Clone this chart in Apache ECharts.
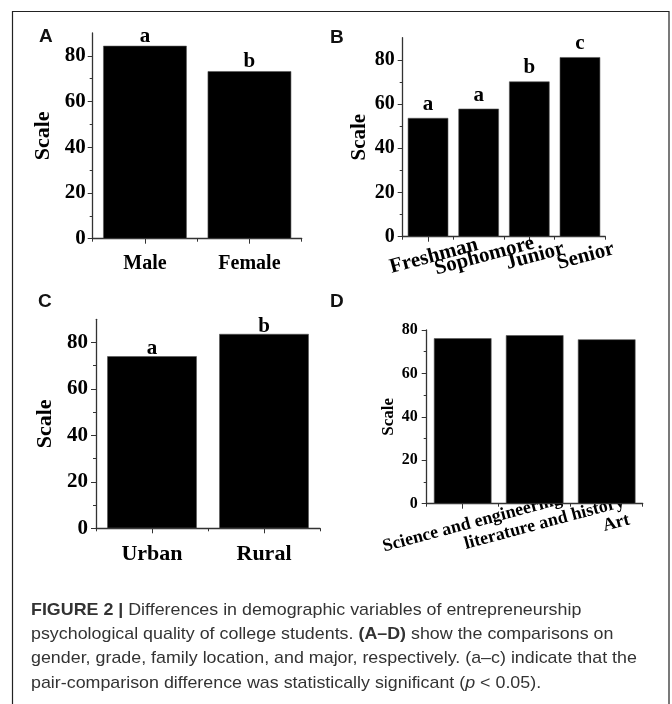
<!DOCTYPE html>
<html>
<head>
<meta charset="utf-8">
<script src="https://cdn.jsdelivr.net/npm/echarts@6/dist/echarts.min.js"></script>
<style>
  html, body { margin: 0; padding: 0; background: #fff; }
  #main { width: 672px; height: 704px; }
</style>
</head>
<body>
<div id="main"></div>
<script>
// panel A - gender
var genderCats = ['Male', 'Female'];
var genderVals = [84.4, 73.3];
var genderSig = ['a', 'b'];
// panel B - grade
var gradeCats = ['Freshman', 'Sophomore', 'Junior', 'Senior'];
var gradeVals = [53.7, 57.9, 70.2, 81.2];
var gradeSig = ['a', 'a', 'b', 'c'];
// panel C - family location
var locCats = ['Urban', 'Rural'];
var locVals = [74.1, 83.7];
var locSig = ['a', 'b'];
// panel D - major
var majorCats = ['Science and engineering', 'literature and history', 'Art'];
var majorVals = [76.2, 77.6, 75.7];

var yTicks = [0, 20, 40, 60, 80];
var yMinor = [10, 30, 50, 70];

var serif = '"Liberation Serif", "Times New Roman", serif';
var axisColor = '#333';

var chart = echarts.init(document.getElementById('main'));

var grids = [];
var xAxes = [];
var yAxes = [];
var series = [];

function addPanel(p) {
  var g = grids.length;
  grids.push({ left: p.left, top: p.top, width: p.width, height: p.height, containLabel: false });

  xAxes.push({
    type: 'category', gridIndex: g, position: 'bottom', data: p.cats,
    axisLine: { lineStyle: { color: axisColor, width: 1.3 } },
    axisTick: { show: true, alignWithLabel: false, length: 3, lineStyle: { color: axisColor } },
    axisLabel: {
      interval: 0, color: '#000', fontFamily: serif, fontWeight: 'bold', fontSize: p.xFont,
      margin: p.xMargin, rotate: p.rotate || 0,
      align: p.rotate ? 'center' : undefined,
      verticalAlign: p.rotate ? 'middle' : undefined,
      padding: p.rotate ? [0, 0, 0, p.shift] : 0
    }
  });
  xAxes.push({
    type: 'category', gridIndex: g, position: 'bottom', data: p.cats,
    axisLine: { show: false },
    axisTick: { show: true, alignWithLabel: true, length: 5, lineStyle: { color: axisColor } },
    axisLabel: { show: false }
  });

  yAxes.push({
    type: 'value', gridIndex: g, position: 'left', min: 0, max: p.max,
    name: 'Scale', nameLocation: 'middle', nameGap: p.nameGap,
    nameTextStyle: { fontFamily: serif, fontWeight: 'bold', fontSize: p.nameFont, color: '#000' },
    splitLine: { show: false },
    axisLine: { show: true, lineStyle: { color: axisColor, width: 1.3 } },
    axisTick: { show: true, customValues: yTicks, length: 5, lineStyle: { color: axisColor } },
    axisLabel: {
      customValues: yTicks, color: '#000', fontFamily: serif, fontWeight: 'bold',
      fontSize: p.yFont, margin: p.yMargin
    }
  });
  yAxes.push({
    type: 'value', gridIndex: g, position: 'left', min: 0, max: p.max,
    splitLine: { show: false },
    axisLine: { show: false },
    axisTick: { show: true, customValues: yMinor, length: 3, lineStyle: { color: axisColor } },
    axisLabel: { show: false }
  });

  var sig = p.sig;
  series.push({
    type: 'bar', xAxisIndex: g * 2, yAxisIndex: g * 2, data: p.vals,
    barCategoryGap: '20%',
    itemStyle: { color: '#000', borderColor: '#555', borderWidth: 0.6 },
    label: {
      show: !!sig, position: 'top', distance: p.sigDist,
      fontFamily: serif, fontWeight: 'bold', fontSize: p.sigFont, color: '#000',
      formatter: function (d) { return sig ? sig[d.dataIndex] : ''; }
    },
    silent: true
  });
}

addPanel({ left: 92.7, top: 33, width: 209, height: 205.7, max: 90, cats: genderCats, vals: genderVals, sig: genderSig,
  xFont: 20, xMargin: 15, yFont: 21, yMargin: 7, nameFont: 22, nameGap: 38, sigFont: 21, sigDist: -1 });
addPanel({ left: 402.7, top: 37.7, width: 202.6, height: 199, max: 90, cats: gradeCats, vals: gradeVals, sig: gradeSig,
  xFont: 21, xMargin: 21, rotate: 15, shift: 12, yFont: 20, yMargin: 8, nameFont: 21, nameGap: 33, sigFont: 21, sigDist: 3 });
addPanel({ left: 96, top: 319.3, width: 224, height: 209, max: 90, cats: locCats, vals: locVals, sig: locSig,
  xFont: 22, xMargin: 15, yFont: 21, yMargin: 8, nameFont: 22, nameGap: 40, sigFont: 21, sigDist: -3 });
addPanel({ left: 426.7, top: 330, width: 216, height: 173.7, max: 80, cats: majorCats, vals: majorVals, sig: null,
  xFont: 18, xMargin: 22, rotate: 15, shift: 20, yFont: 16, yMargin: 9, nameFont: 17, nameGap: 30, sigFont: 18, sigDist: 2 });

var letterFont = 'bold 19px "Liberation Sans", Arial, sans-serif';
var capFamily = '"Liberation Sans", Arial, sans-serif';

var option = {
  animation: false,
  backgroundColor: '#fff',
  grid: grids,
  xAxis: xAxes,
  yAxis: yAxes,
  series: series,
  graphic: [
    { type: 'rect', shape: { x: 12.5, y: 11.5, width: 656.5, height: 710 }, style: { fill: null, stroke: '#222', lineWidth: 1.2 }, silent: true },
    { type: 'text', x: 39, y: 37, style: { text: 'A', font: letterFont, fill: '#111', verticalAlign: 'middle' } },
    { type: 'text', x: 330, y: 37.5, style: { text: 'B', font: letterFont, fill: '#111', verticalAlign: 'middle' } },
    { type: 'text', x: 38, y: 302, style: { text: 'C', font: letterFont, fill: '#111', verticalAlign: 'middle' } },
    { type: 'text', x: 330, y: 302, style: { text: 'D', font: letterFont, fill: '#111', verticalAlign: 'middle' } },
    {
      type: 'text', x: 31, y: 598, scaleX: 1.05, silent: true,
      style: {
        text: '{b|FIGURE 2 |} Differences in demographic variables of entrepreneurship\n' +
              'psychological quality of college students. {b|(A\u2013D)} show the comparisons on\n' +
              'gender, grade, family location, and major, respectively. (a\u2013c) indicate that the\n' +
              'pair-comparison difference was statistically significant ({i|p} < 0.05).',
        font: '17px ' + capFamily,
        fill: '#333',
        lineHeight: 24.3,
        verticalAlign: 'top',
        rich: {
          b: { fontWeight: 'bold', fontSize: 17, fontFamily: capFamily, fill: '#333', lineHeight: 24.3 },
          i: { fontStyle: 'italic', fontSize: 17, fontFamily: capFamily, fill: '#333', lineHeight: 24.3 }
        }
      }
    }
  ]
};
chart.setOption(option);
</script>
</body>
</html>
